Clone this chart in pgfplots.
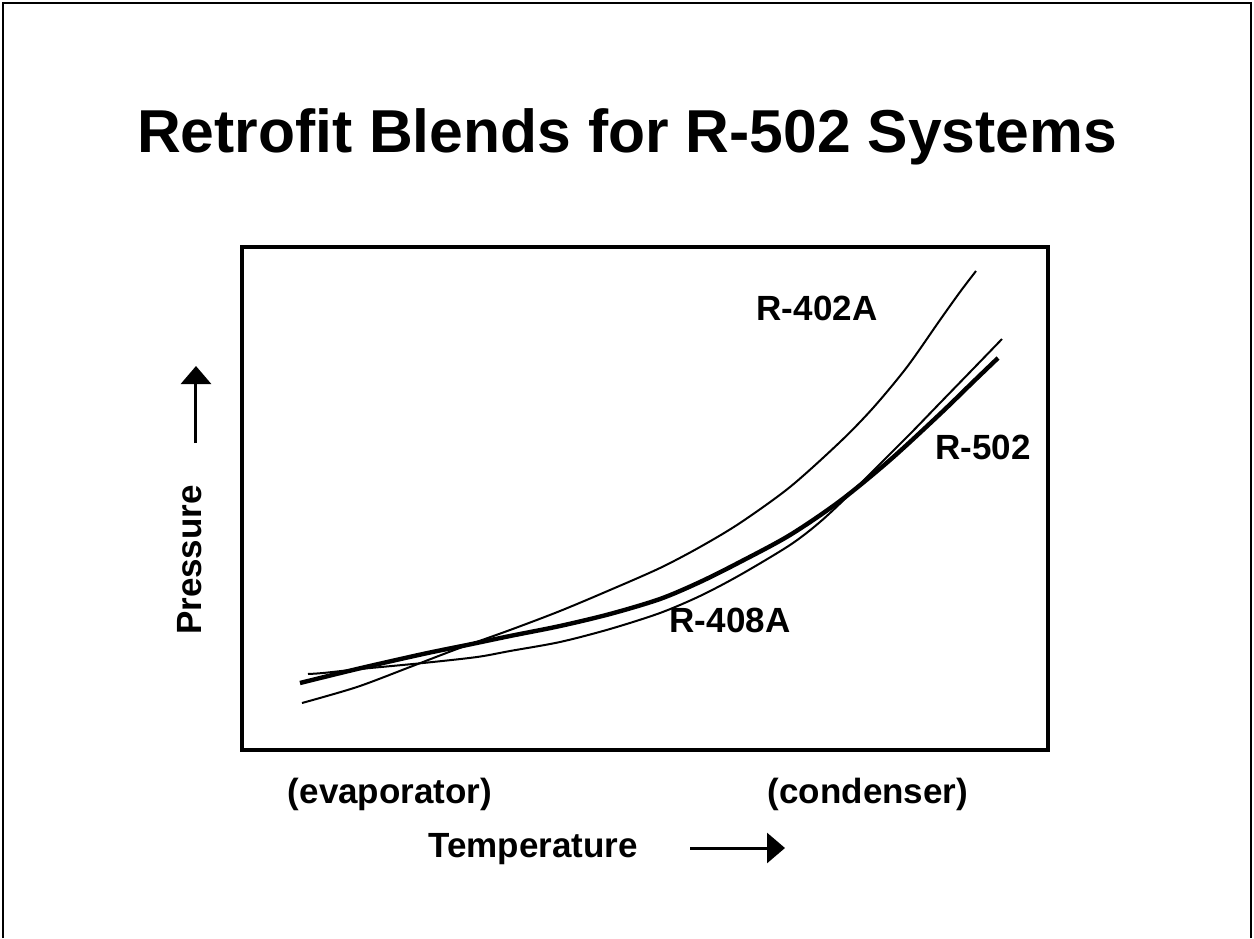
\documentclass[border=0pt]{standalone}
\usepackage{pgfplots}
\pgfplotsset{compat=1.18}
\usepackage{fontspec}
\setmainfont{Liberation Sans}
\usetikzlibrary{arrows.meta}
\pgfplotstableread{
x y
300 683
357 669
423 654
467 645
510 636
560 626
610 614
660 599
700 582
740 562
790 535
840 501
890 460
940 414
973 382
998 358
}\rfivezerotwo
\pgfplotstableread{
x y
302 703
357 687
410 667
457 649
510 630
560 611
610 590
660 568
700 547
740 523
790 487
840 442
873 408
907 367
940 320
960 292
976 271
}\rfourotwoa
\pgfplotstableread{
x y
308 674
323 673
360 669
423 663
477 657
510 651
560 642
610 629
660 613
700 596
740 575
790 545
820 522
850 494
880 464
910 434
940 403
973 369
1002 339
}\rfourzeroeighta
\begin{document}
\begin{tikzpicture}
\begin{axis}[
  scale only axis,
  width=403pt, height=251.5pt,
  xmin=242, xmax=1048, ymin=247, ymax=750,
  y dir=reverse,
  xtick=\empty, ytick=\empty,
  axis line style={line width=2pt},
  clip=false,
]
\addplot[black, line width=1pt, smooth] table {\rfourotwoa};
\addplot[black, line width=1pt, smooth] table {\rfourzeroeighta};
\addplot[black, line width=2.2pt, smooth] table {\rfivezerotwo};
\coordinate (bbA) at (axis cs:0,0);
\coordinate (bbB) at (axis cs:1254,938);
\draw[line width=1pt] (axis cs:3,938) -- (axis cs:3,3) -- (axis cs:1251,3) -- (axis cs:1251,938);
\node[anchor=base, font=\fontsize{30.3}{36}\selectfont\bfseries] at (axis cs:627,152) {Retrofit Blends for R-502 Systems};
\node[anchor=base, font=\fontsize{17.5}{21}\selectfont\bfseries] at (axis cs:817,320) {R-402A};
\node[anchor=base, font=\fontsize{17.5}{21}\selectfont\bfseries] at (axis cs:983,459) {R-502};
\node[anchor=base, font=\fontsize{17.5}{21}\selectfont\bfseries] at (axis cs:730,632) {R-408A};
\node[anchor=base, font=\fontsize{17.5}{21}\selectfont\bfseries] at (axis cs:390,803) {(evaporator)};
\node[anchor=base, font=\fontsize{17.5}{21}\selectfont\bfseries] at (axis cs:868,803) {(condenser)};
\node[anchor=base, font=\fontsize{17.5}{21}\selectfont\bfseries] at (axis cs:533,857) {Temperature};
\node[rotate=90, font=\fontsize{17.5}{21}\selectfont\bfseries] at (axis cs:190,560) {Pressure};
\draw[line width=1.5pt, -{Triangle[width=15pt,length=9pt]}] (axis cs:196,443) -- (axis cs:196,366);
\draw[line width=1.5pt, -{Triangle[width=15pt,length=9pt]}] (axis cs:690,848) -- (axis cs:785,848);
\end{axis}
\pgfresetboundingbox
\path[use as bounding box] (bbA) rectangle (bbB);
\end{tikzpicture}
\end{document}
